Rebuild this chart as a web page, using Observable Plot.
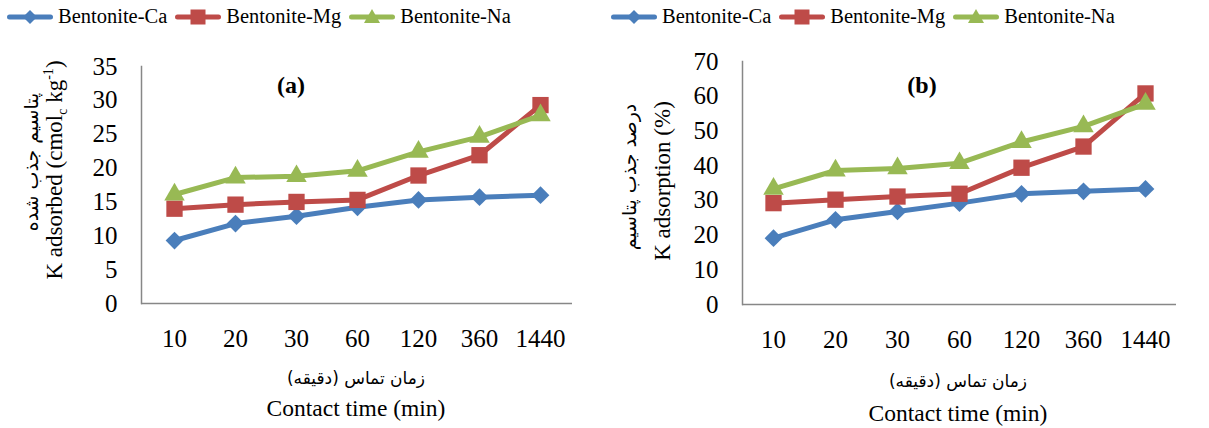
<!DOCTYPE html>
<html>
<head>
<meta charset="utf-8">
<script src="https://cdn.jsdelivr.net/npm/d3@7"></script>
<script src="https://cdn.jsdelivr.net/npm/@observablehq/plot@0.6"></script>
<style>
  html, body { margin: 0; padding: 0; background: #fff; }
  #root { position: relative; width: 1209px; height: 428px; overflow: hidden; font-family: "Liberation Serif", "Times New Roman", Tinos, "DejaVu Serif", serif; color: #000; }
  .abs { position: absolute; white-space: nowrap; }
  .legend { position: absolute; top: 5px; display: flex; align-items: center; font-size: 20.5px; }
  .legend .item { display: flex; align-items: center; margin-right: 8px; }
  .legend svg { margin-right: 5px; }
  .rot { position: absolute; white-space: nowrap; transform: translate(-50%, -50%) rotate(-90deg); }
  .fa { font-family: "DejaVu Sans", sans-serif; font-size: 17px; direction: rtl; }
  .rot.fa { font-size: 19px; }
  .en { font-size: 23px; }
  .xl { font-size: 23.5px; }
  .title { font-weight: bold; font-size: 24px; transform: translate(-50%, -50%); }
  .center { transform: translate(-50%, -50%); }
</style>
</head>
<body>
<div id="root"></div>
<script>
// ---- data ----
const times = ["10", "20", "30", "60", "120", "360", "1440"];
const seriesNames = ["Bentonite-Ca", "Bentonite-Mg", "Bentonite-Na"];
const seriesColors = ["#4A7EBB", "#BE4B48", "#98B954"];
const seriesSymbols = ["diamond2", "square", "triangle"];

// (a) K adsorbed (cmolc/kg)
const caA = [9.3, 11.8, 12.9, 14.2, 15.3, 15.7, 16.0];
const mgA = [14.0, 14.6, 15.0, 15.3, 18.9, 21.9, 29.3];
const naA = [16.1, 18.6, 18.8, 19.6, 22.4, 24.6, 27.8];
const yTicksA = [0, 5, 10, 15, 20, 25, 30, 35];

// (b) K adsorption (%)
const caB = [19.1, 24.4, 26.8, 29.2, 31.9, 32.6, 33.3];
const mgB = [29.2, 30.2, 31.1, 31.9, 39.4, 45.5, 60.8];
const naB = [33.3, 38.6, 39.2, 40.7, 46.8, 51.3, 57.8];
const yTicksB = [0, 10, 20, 30, 40, 50, 60, 70];

const serif = "'Liberation Serif', 'Times New Roman', Tinos, 'DejaVu Serif', serif";

// ---- helpers ----
function toRows(vals, name) {
  return vals.map((v, i) => ({ time: times[i], value: v, series: name }));
}
const symbolR = { diamond2: 8, square: 9.2, triangle: 7.6 };

function makeChart(series, yTicks, m) {
  const marks = [
    Plot.axisX({ tickSize: 0, tickPadding: 26, fontSize: 25, fontFamily: serif, fill: "#000" }),
    Plot.axisY({ ticks: yTicks, tickSize: 0, tickPadding: m.tickPad, fontSize: 25, fontFamily: serif, fill: "#000" }),
    Plot.frame({ anchor: "left", stroke: "#878787", strokeWidth: 1.5 }),
    Plot.ruleY([0], { stroke: "#878787", strokeWidth: 1.5 })
  ];
  series.forEach((vals, i) => {
    const rows = toRows(vals, seriesNames[i]);
    marks.push(Plot.lineY(rows, { x: "time", y: "value", stroke: seriesColors[i], strokeWidth: 5 }));
    marks.push(Plot.dot(rows, { x: "time", y: "value", fill: seriesColors[i], stroke: "none", symbol: () => seriesSymbols[i], r: symbolR[seriesSymbols[i]] }));
  });
  return Plot.plot({
    width: 604,
    height: 428,
    marginLeft: m.left,
    marginRight: m.right,
    marginTop: m.top,
    marginBottom: m.bottom,
    style: { fontFamily: serif, fontSize: "25px", background: "transparent", overflow: "visible" },
    x: { type: "point", domain: times, padding: 0.5, label: null },
    y: { domain: [yTicks[0], yTicks[yTicks.length - 1]], label: null },
    symbol: { type: "identity" },
    marks
  });
}

const root = document.getElementById("root");

const chartA = makeChart([caA, mgA, naA], yTicksA, { left: 141, right: 32, top: 66, bottom: 125, tickPad: 24 });
chartA.style.position = "absolute";
chartA.style.left = "0px";
chartA.style.top = "0px";
root.appendChild(chartA);

const chartB = makeChart([caB, mgB, naB], yTicksB, { left: 137, right: 33, top: 61, bottom: 124, tickPad: 24 });
chartB.style.position = "absolute";
chartB.style.left = "605px";
chartB.style.top = "0px";
root.appendChild(chartB);

// ---- legends ----
function swatch(i) {
  const c = seriesColors[i];
  let marker = "";
  if (seriesSymbols[i] === "diamond2") marker = `<path d="M23,3 L30,10 L23,17 L16,10 Z" fill="${c}"/>`;
  else if (seriesSymbols[i] === "square") marker = `<rect x="15.5" y="2.5" width="15" height="15" fill="${c}"/>`;
  else marker = `<path d="M23,2 L31,16 L15,16 Z" fill="${c}"/>`;
  return `<svg width="46" height="20" viewBox="0 0 46 20"><line x1="2.5" y1="10" x2="43.5" y2="10" stroke="${c}" stroke-width="5" stroke-linecap="round"/>${marker}</svg>`;
}
function legend(left) {
  const d = document.createElement("div");
  d.className = "legend";
  d.style.left = left + "px";
  d.innerHTML = seriesNames.map((n, i) => `<div class="item">${swatch(i)}<span>${n}</span></div>`).join("");
  root.appendChild(d);
}
legend(7);
legend(611);

// ---- texts ----
function addText(html, cls, x, y) {
  const d = document.createElement("div");
  d.className = "abs " + cls;
  d.style.left = x + "px";
  d.style.top = y + "px";
  d.innerHTML = html;
  root.appendChild(d);
}
addText("(a)", "title", 291, 85);
addText("(b)", "title", 922, 85);

addText("پتاسیم جذب شده", "rot fa", 31, 162);
addText("K adsorbed (cmol<sub style='font-size:14px'>c</sub> kg<sup style='font-size:14px'>-1</sup>)", "rot en", 56, 170);
addText("درصد جذب پتاسیم", "rot fa", 629, 177);
addText("K adsorption (%)", "rot en", 663, 181);

addText("زمان تماس (دقیقه)", "center fa", 356, 378);
addText("Contact time (min)", "center xl", 356, 408);
addText("زمان تماس (دقیقه)", "center fa", 958, 381);
addText("Contact time (min)", "center xl", 958, 413);
</script>
</body>
</html>
